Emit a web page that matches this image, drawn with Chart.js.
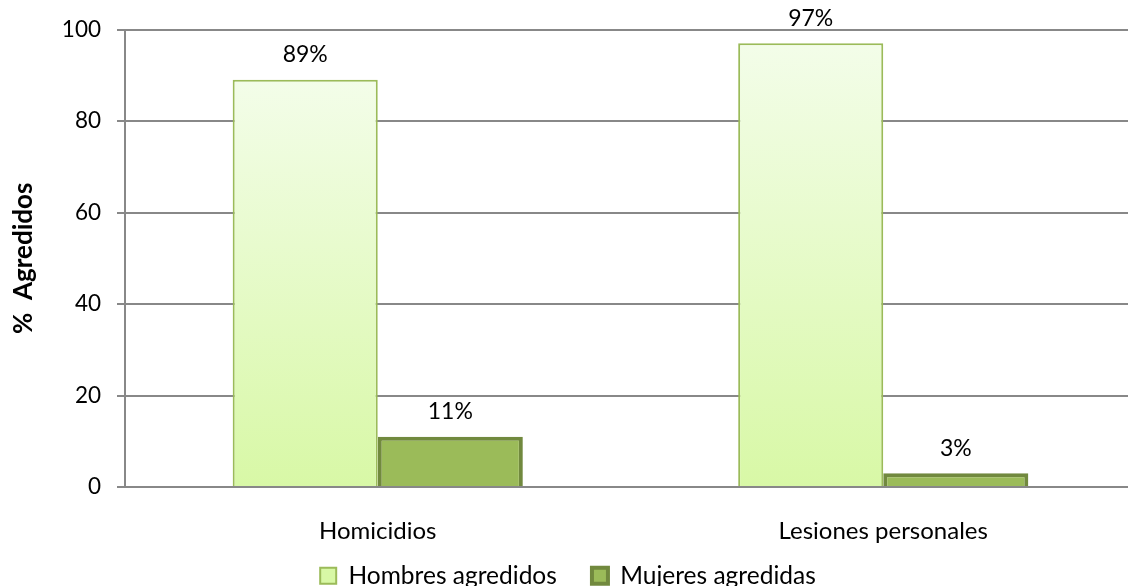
<!DOCTYPE html>
<html>
<head>
<meta charset="utf-8">
<script src="https://cdn.jsdelivr.net/npm/chart.js@4.4.1/dist/chart.umd.min.js"></script>
<style>
  html, body { margin:0; padding:0; background:#fff; overflow:hidden; }
  #chart { display:block; }
</style>
</head>
<body>
<canvas id="chart" width="1136" height="598"></canvas>
<script>
// datos
let categorias = ['Homicidios', 'Lesiones personales'];
let hombres = [89, 97];
let mujeres = [11, 3];
let yTicks = [0, 20, 40, 60, 80, 100];

let fuente = 'Lato, "Open Sans", sans-serif';

function degradado(ctx) {
    if (ctx.type !== 'data' || !ctx.chart.chartArea) return '#e4fac4';
    let y = ctx.chart.scales.y;
    let top = y.getPixelForValue(ctx.raw);
    let bottom = y.getPixelForValue(0);
    let g = ctx.chart.ctx.createLinearGradient(0, top, 0, bottom);
    g.addColorStop(0, '#f3fde9');
    g.addColorStop(1, '#d8f8a6');
    return g;
}

// etiquetas de porcentaje encima de las barras
let etiquetas = {
    id: 'etiquetas',
    afterDatasetsDraw(chart) {
        let ctx = chart.ctx;
        ctx.save();
        ctx.font = '23px ' + fuente;
        ctx.fillStyle = '#000';
        ctx.textAlign = 'center';
        ctx.textBaseline = 'middle';
        chart.data.datasets.forEach((ds, i) => {
            chart.getDatasetMeta(i).data.forEach((bar, j) => {
                ctx.fillText(ds.data[j] + '%', bar.x, bar.y - 25);
            });
        });
        ctx.restore();
    }
};

new Chart(document.getElementById('chart'), {
    type: 'bar',
    plugins: [etiquetas],
    data: {
        labels: categorias,
        datasets: [{
            label: 'Hombres agredidos',
            data: hombres,
            backgroundColor: degradado,
            borderColor: '#9bbb59',
            borderWidth: 2,
            categoryPercentage: 0.574,
            barPercentage: 1
        }, {
            label: 'Mujeres agredidas',
            data: mujeres,
            backgroundColor: '#9bbb59',
            borderColor: '#71893e',
            borderWidth: 4,
            categoryPercentage: 0.574,
            barPercentage: 1
        }]
    },
    options: {
        responsive: false,
        animation: false,
        layout: { padding: { top: 29, right: 0, left: 0, bottom: 0 } },
        plugins: {
            tooltip: { enabled: false },
            legend: {
                position: 'bottom',
                labels: {
                    boxWidth: 16,
                    boxHeight: 16,
                    padding: 10,
                    color: '#000',
                    font: { family: fuente, size: 24.5 },
                    generateLabels: chart => {
                        let items = Chart.defaults.plugins.legend.labels.generateLabels(chart);
                        items[0].text += '    ';
                        return items;
                    }
                }
            }
        },
        scales: {
            x: {
                grid: { display: false },
                border: { display: true, color: '#888', width: 2 },
                ticks: { color: '#000', padding: 22, font: { family: fuente, size: 24 } },
                afterFit: s => { s.height = 66.5; }
            },
            y: {
                min: yTicks[0],
                max: yTicks[yTicks.length - 1],
                afterBuildTicks: s => { s.ticks = yTicks.map(v => ({ value: v })); },
                grid: { color: '#888', lineWidth: 2, tickLength: 8 },
                border: { display: true, color: '#888', width: 2 },
                ticks: { color: '#000', padding: 16, font: { family: fuente, size: 22.5 } },
                title: {
                    display: true,
                    text: '%  Agredidos',
                    color: '#000',
                    padding: { top: 8, bottom: 0 },
                    font: { family: fuente, size: 26, weight: 'bold' }
                },
                afterFit: s => { s.width = 125; }
            }
        }
    }
});
</script>
</body>
</html>
